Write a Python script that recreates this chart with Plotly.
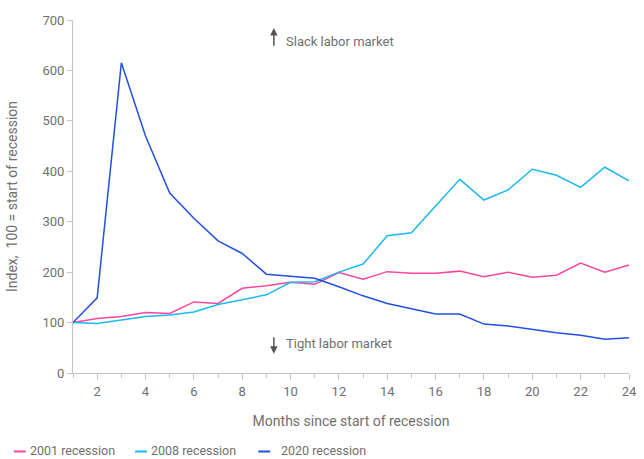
import plotly.graph_objects as go

months = list(range(1, 25))
r2001 = [100, 108, 112, 120, 118, 141, 138, 168, 173, 180, 176, 199,
         186, 201, 198, 198, 202, 191, 200, 190, 194, 218, 200, 214]
r2008 = [100, 98, 105, 112, 115, 121, 136, 145, 155, 180, 181, 200,
         216, 272, 278, 331, 384, 343, 363, 404, 392, 368, 408, 381]
r2020 = [100, 149, 615, 470, 357, 307, 262, 237, 196, 192, 188, 171,
         153, 138, 128, 117, 117, 97, 93, 86, 80, 75, 67, 70]
series_names = ["2001 recession", "2008 recession", "2020 recession"]
colors = ["#f7479e", "#1cb8ef", "#2250e0"]
x_ticks = list(range(2, 25, 2))
y_ticks = list(range(0, 701, 100))

FONT = "Roboto"
GRAY = "#6f6f6f"
W, H = 644, 459
L, R, T, B = 73, 7, 20, 86
PW, PH = W - L - R, H - T - B


def px2paper_x(px):
    return (px - L) / PW


def py2paper_y(py):
    return (H - B - py) / PH


fig = go.Figure()
for name, vals, c in zip(series_names, [r2001, r2008, r2020], colors):
    fig.add_trace(go.Scatter(x=months, y=vals, mode="lines", name=name,
                             line=dict(color=c, width=1.5), showlegend=False))

fig.update_layout(
    width=W, height=H,
    margin=dict(l=L, r=R, t=T, b=B),
    paper_bgcolor="white", plot_bgcolor="white",
    font=dict(family=FONT, size=13, color=GRAY),
    showlegend=False,
    xaxis=dict(range=[1, 24], tickvals=x_ticks, ticktext=[str(v) for v in x_ticks],
               showgrid=False, zeroline=False, showline=True, linecolor="#c4c4c4",
               linewidth=1, ticks="outside", tickcolor="#c4c4c4", ticklen=6,
               ticklabeloverflow="allow",
               minor=dict(dtick=1, tick0=1, ticks="outside", ticklen=4, tickcolor="#c4c4c4",
                          showgrid=False),
               tickfont=dict(size=13, color=GRAY),
               title=dict(text="Months since start of recession", standoff=18,
                          font=dict(size=14, color=GRAY))),
    yaxis=dict(range=[0, 700], tickvals=y_ticks, showgrid=False, zeroline=False,
               showline=True, linecolor="#c4c4c4", linewidth=1, ticks="outside",
               tickcolor="#c4c4c4", ticklen=5, tickfont=dict(size=13, color=GRAY),
               title=dict(text="Index,  100 = start of recession", standoff=21,
                          font=dict(size=14, color=GRAY))),
)

# arrows and labels
fig.add_annotation(x=9.31, y=684, ax=9.31, ay=646, xref="x", yref="y", axref="x", ayref="y",
                   text="", showarrow=True, arrowhead=2, arrowsize=1, arrowwidth=1.5,
                   arrowcolor="#555555")
fig.add_annotation(x=9.71, y=658, xref="x", yref="y", text="Slack labor market",
                   showarrow=False, xanchor="left", font=dict(size=13, color=GRAY))
fig.add_annotation(x=9.31, y=38, ax=9.31, ay=74, xref="x", yref="y", axref="x", ayref="y",
                   text="", showarrow=True, arrowhead=2, arrowsize=1, arrowwidth=1.5,
                   arrowcolor="#555555")
fig.add_annotation(x=9.71, y=59, xref="x", yref="y", text="Tight labor market",
                   showarrow=False, xanchor="left", font=dict(size=13, color=GRAY))

# custom legend (short line keys)
legend_key_x = [(13, 25, 28), (136, 148, 151), (261, 273, 283)]
key_y = py2paper_y(451.5)
text_bottom = py2paper_y(459)
for (x0, x1, tx), name, c in zip(legend_key_x, series_names, colors):
    fig.add_shape(type="line", xref="paper", yref="paper",
                  x0=px2paper_x(x0), x1=px2paper_x(x1), y0=key_y, y1=key_y,
                  line=dict(color=c, width=2))
    fig.add_annotation(xref="paper", yref="paper", x=px2paper_x(tx), y=text_bottom,
                       text=name, showarrow=False, xanchor="left", yanchor="bottom",
                       borderpad=0, font=dict(size=12.5, color=GRAY))

fig.write_html("out.html", config={"displayModeBar": False},
               post_script="document.body.style.margin='0';document.body.style.overflow='hidden';")
